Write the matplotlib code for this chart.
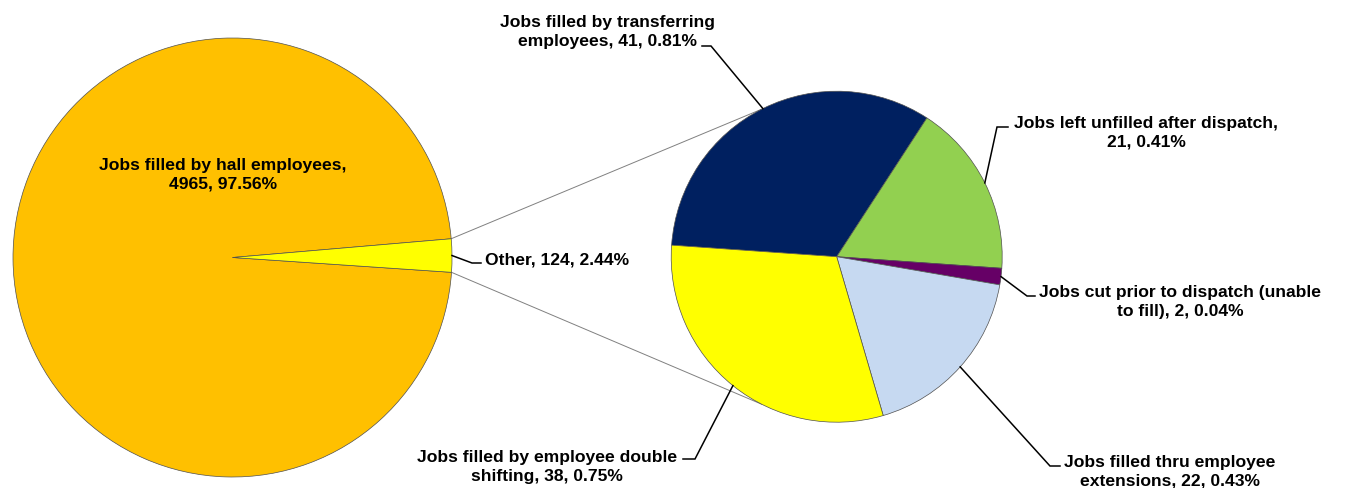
import numpy as np
import matplotlib
matplotlib.use("Agg")
import matplotlib.pyplot as plt

# ---- data ----
main_labels = ["Jobs filled by hall employees,\n4965, 97.56%", "Other, 124, 2.44%"]
main_values = [4965, 124]
main_colors = ["#FFC000", "#FFFF00"]

sub_labels = ["Jobs filled by transferring\nemployees, 41, 0.81%",
              "Jobs left unfilled after dispatch,\n21, 0.41%",
              "Jobs cut prior to dispatch (unable\nto fill), 2, 0.04%",
              "Jobs filled thru employee\nextensions, 22, 0.43%",
              "Jobs filled by employee double\nshifting, 38, 0.75%"]
sub_values = [41, 21, 2, 22, 38]
sub_colors = ["#002060", "#92D050", "#660066", "#C6D9F1", "#FFFF00"]

W, H = 1345, 489
def P(x, y):
    return (x, H - y)

plt.rcParams['font.family'] = ['Liberation Sans', 'DejaVu Sans']
fig = plt.figure(figsize=(W / 100, H / 100), dpi=100)
ax = fig.add_axes([0, 0, 1, 1])

mc = P(232.5, 258.5); mr = 219.5
sc = P(836.7, 257.7); sr = 165.5

wm, _ = ax.pie(main_values, colors=main_colors, startangle=4.9, counterclock=True,
               center=mc, radius=mr, frame=True,
               wedgeprops=dict(edgecolor="#505050", linewidth=0.5))
ws, _ = ax.pie(sub_values, colors=sub_colors, startangle=176, counterclock=False,
               center=sc, radius=sr, frame=True,
               wedgeprops=dict(edgecolor="#505050", linewidth=0.5))

ax.set_xlim(0, W); ax.set_ylim(0, H)
ax.set_aspect('auto')
ax.axis('off')

def on_circle(c, r, ang):
    a = np.deg2rad(ang)
    return (c[0] + r * np.cos(a), c[1] + r * np.sin(a))

# connector lines between pies
ow = wm[1]
p_top = on_circle(mc, mr, ow.theta2)
p_bot = on_circle(mc, mr, ow.theta1)
q_top = on_circle(sc, sr, 117)
q_bot = on_circle(sc, sr, -117)
for p, q in [(p_top, q_top), (p_bot, q_bot)]:
    ax.plot([p[0], q[0]], [p[1], q[1]], color="#808080", lw=0.7, zorder=0)

fs = 12.6
ls = 1.3
# main labels
ax.text(*P(223, 175), main_labels[0], ha='center', va='center', fontsize=fs,
        fontweight='bold', linespacing=ls)
ax.text(*P(485, 260), main_labels[1], ha='left', va='center', fontsize=fs,
        fontweight='bold')

def leader(wedge, c, r, elbow, end):
    mid = (wedge.theta1 + wedge.theta2) / 2
    s = on_circle(c, r, mid)
    e1 = P(*elbow); e2 = P(*end)
    ax.plot([s[0], e1[0], e2[0]], [s[1], e1[1], e2[1]], color='black', lw=1.1,
            solid_joinstyle='miter')

leader(wm[1], mc, mr, (472, 264), (481, 264))

sub_text_pos = [(607, 32), (1146, 133), (1180, 302), (1170, 472), (547, 467)]
sub_elbows = [(711, 47), (997, 128), (1027, 297), (1050, 467), (695, 460)]
sub_ends = [(702, 47), (1008, 128), (1035, 297), (1060, 467), (683, 460)]
for w, lab, tp, el, en in zip(ws, sub_labels, sub_text_pos, sub_elbows, sub_ends):
    ax.text(*P(*tp), lab, ha='center', va='center', fontsize=fs, fontweight='bold',
            linespacing=ls, multialignment='center')
    leader(w, sc, sr, el, en)

fig.savefig("out.png", dpi=100)
